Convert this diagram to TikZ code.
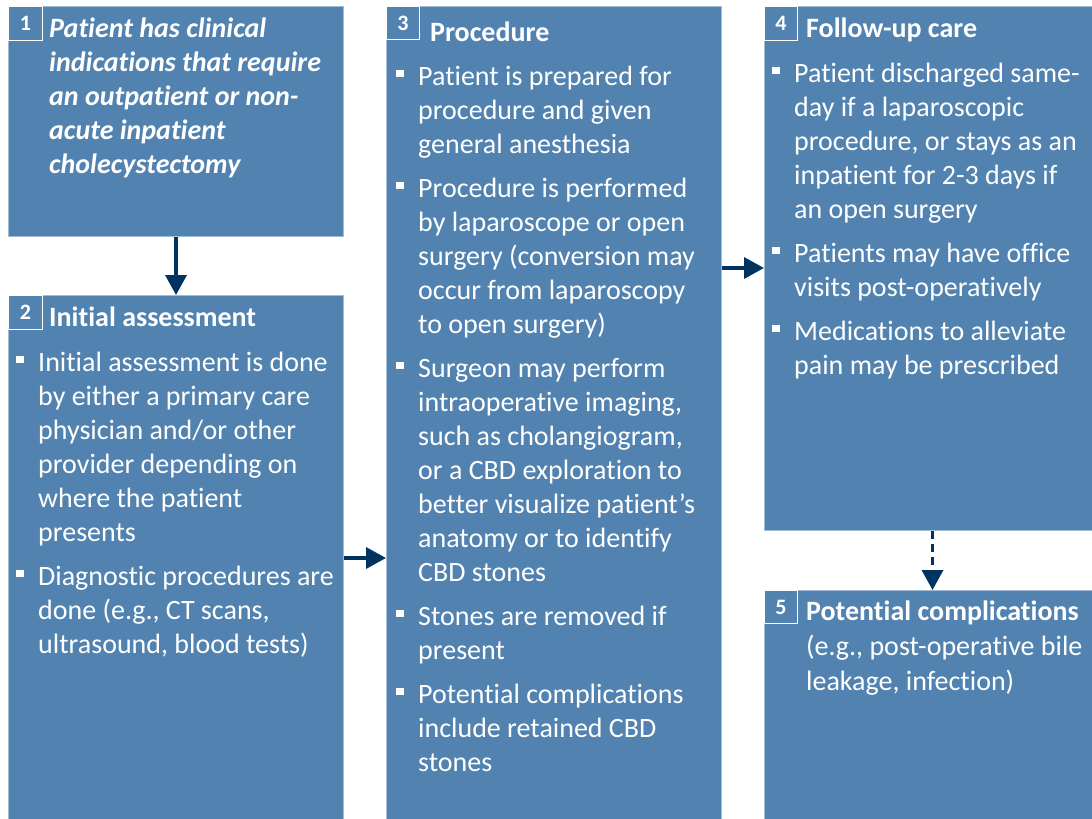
\documentclass[tikz,border=0pt]{standalone}
\usepackage{fontspec}
\setmainfont{Carlito}[Ligatures={NoCommon}]
\usetikzlibrary{arrows.meta}
\definecolor{boxblue}{RGB}{82,131,176}
\definecolor{boxedge}{RGB}{160,188,215}
\definecolor{navy}{RGB}{0,51,96}
\newcommand\bsq{\raisebox{8pt}{\rule{7.5pt}{7.5pt}}}
\newcommand\bitem[1]{\par\noindent\hangindent=22pt\hangafter=1\makebox[22pt][l]{\bsq}#1\par}
\newcommand\pgap{\vspace{10pt}}
\begin{document}
\begin{tikzpicture}[x=1pt,y=-1pt,
  box/.style={draw=boxedge, line width=1pt, fill=boxblue, anchor=north west, inner sep=0pt, minimum width=335pt},
  numbox/.style={draw=white, line width=0.9pt, anchor=north west, inner sep=0pt, minimum width=34pt, minimum height=34pt, text=white, font=\fontsize{22}{26}\selectfont\bfseries},
  titletext/.style={anchor=base west, inner sep=0pt, text=white, font=\fontsize{28}{34}\selectfont\bfseries},
  bodytext/.style={anchor=base west, inner sep=0pt, text=white, font=\fontsize{28}{34}\selectfont},
  arr/.style={navy, line width=3.5pt, -{Triangle[length=20pt,width=21pt]}},
  darr/.style={arr, dash pattern=on 8pt off 5pt}]
\useasboundingbox (0,0) rectangle (1092,819);
\fill[white] (0,0) rectangle (1092,819);
% boxes
\node[box, minimum height=230pt] (b1) at (8,6) {};
\node[box, minimum height=535pt] (b2) at (8,295) {};
\node[box, minimum height=825pt] (b3) at (386,6) {};
\node[box, minimum height=524pt, minimum width=336pt] (b4) at (764,6) {};
\node[box, minimum height=240pt, minimum width=336pt] (b5) at (764,590) {};
% number boxes
\node[numbox] (n1) at (8,6) {1};
\node[numbox] (n2) at (8,295) {2};
\node[numbox, minimum width=33pt, minimum height=33pt] (n3) at (386,6) {3};
\node[numbox, minimum width=33pt] (n4) at (764,6) {4};
\node[numbox, minimum width=33pt, minimum height=33pt] (n5) at (764,590) {5};
% box 1
\node[bodytext, font=\fontsize{28}{34.2}\selectfont\bfseries\itshape] (x1) at (49,37) {\parbox[t]{320pt}{Patient has clinical\\indications that require\\an outpatient or non-\\acute inpatient\\cholecystectomy}};
% box 2
\node[titletext] (t2) at (49,326) {Initial assessment};
\node[bodytext] (x2) at (16,371) {\parbox[t]{360pt}{%
\bitem{Initial assessment is done\\by either a primary care\\physician and/or other\\provider depending on\\where the patient\\presents}\pgap
\bitem{Diagnostic procedures are\\done (e.g., CT scans,\\ultrasound, blood tests)}}};
% box 3
\node[titletext] (t3) at (430,41) {Procedure};
\node[bodytext] (x3) at (396,85) {\parbox[t]{360pt}{%
\bitem{Patient is prepared for\\procedure and given\\general anesthesia}\pgap
\bitem{Procedure is performed\\by laparoscope or open\\surgery (conversion may\\occur from laparoscopy\\to open surgery)}\pgap
\bitem{Surgeon may perform\\intraoperative imaging,\\such as cholangiogram,\\or a CBD exploration to\\better visualize patient’s\\anatomy or to identify\\CBD stones}\pgap
\bitem{Stones are removed if\\present}\pgap
\bitem{Potential complications\\include retained CBD\\stones}}};
% box 4
\node[titletext] (t4) at (806,37) {Follow-up care};
\node[bodytext] (x4) at (772,82) {\parbox[t]{360pt}{%
\bitem{Patient discharged same-\\day if a laparoscopic\\procedure, or stays as an\\inpatient for 2-3 days if\\an open surgery}\pgap
\bitem{Patients may have office\\visits post-operatively}\pgap
\bitem{Medications to alleviate\\pain may be prescribed}}};
% box 5
\node[titletext] (t5) at (806,620) {Potential complications};
\node[bodytext, font=\fontsize{28}{35}\selectfont] (x5) at (806,655) {\parbox[t]{320pt}{(e.g., post-operative bile\\leakage, infection)}};
% connectors
\coordinate (y23) at (0,558);
\coordinate (y34) at (0,268);
\draw[arr] (b1.south) -- (b2.north);
\draw[arr] (b2.east |- y23) -- (b3.west |- y23);
\draw[arr] (b3.east |- y34) -- (b4.west |- y34);
\draw[darr] (b4.south) -- (b5.north);
\end{tikzpicture}
\end{document}
